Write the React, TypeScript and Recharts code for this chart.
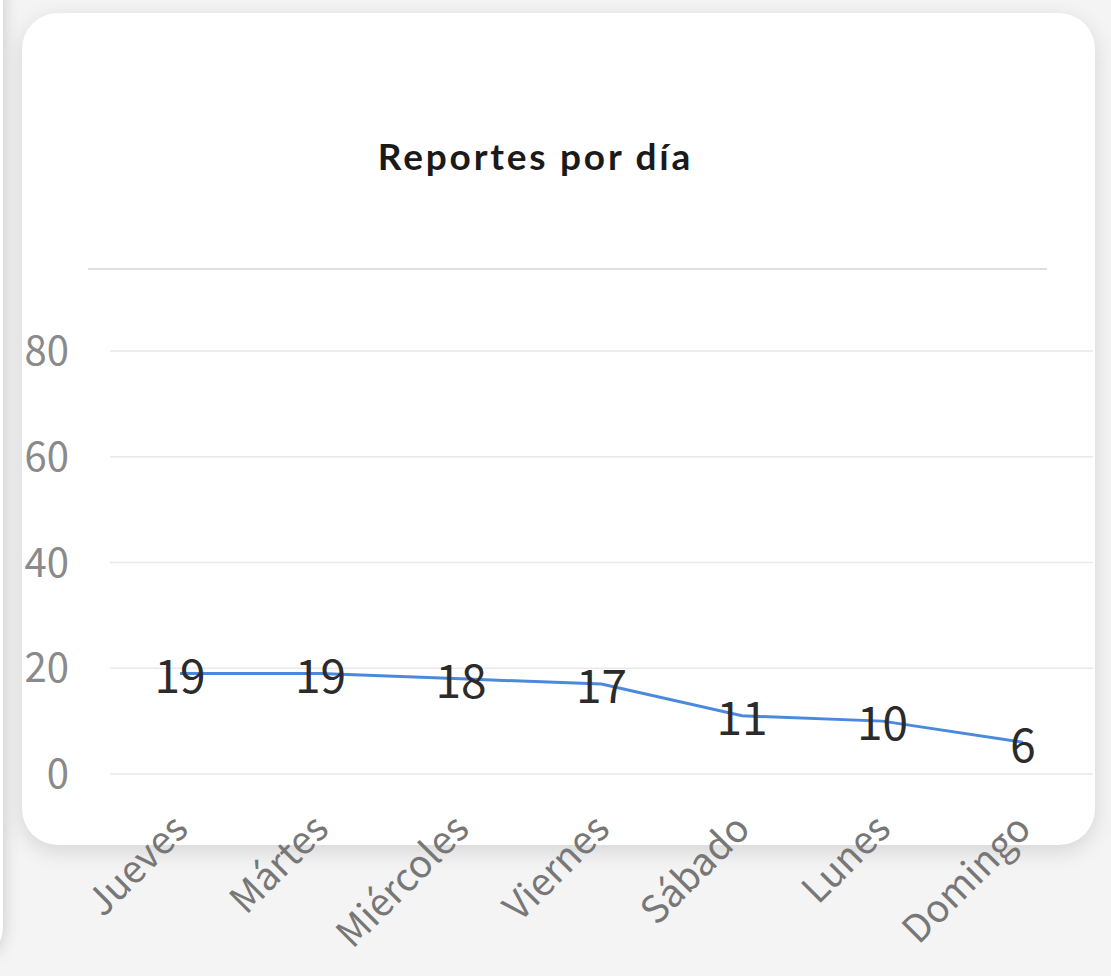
import { LineChart, Line, XAxis, YAxis, CartesianGrid, LabelList } from "recharts";

const days = ["Jueves", "Mártes", "Miércoles", "Viernes", "Sábado", "Lunes", "Domingo"];
const reports = [19, 19, 18, 17, 11, 10, 6];
const yTicks = [0, 20, 40, 60, 80];

const data = days.map((day, i) => ({ day, reports: reports[i] }));

const labelFont = '"Noto Sans CJK JP", "Noto Sans", sans-serif';

export default function App() {
  return (
    <div
      style={{
        position: "fixed",
        top: 0,
        left: 0,
        width: 1111,
        height: 976,
        background: "#f5f4f5",
        overflow: "hidden",
      }}
    >
      {/* edge of the card behind */}
      <div
        style={{
          position: "absolute",
          left: -200,
          top: -40,
          width: 203,
          height: 998,
          background: "#ffffff",
          borderRadius: 30,
          boxShadow: "0 0 18px rgba(0,0,0,0.18)",
        }}
      />
      <div
        style={{
          position: "absolute",
          left: 22,
          top: 13,
          width: 1073,
          height: 832,
          background: "#ffffff",
          borderRadius: 36,
          boxShadow: "0 6px 22px rgba(0,0,0,0.13)",
        }}
      />
      <div
        style={{
          position: "absolute",
          left: 22,
          top: 134,
          width: 1027,
          textAlign: "center",
          fontFamily: "Lato, sans-serif",
          fontWeight: 700,
          fontSize: 37,
          color: "#1a1a1a",
          letterSpacing: 2.8,
          lineHeight: "44px",
        }}
      >
        Reportes por día
      </div>
      <div
        style={{
          position: "absolute",
          left: 88,
          top: 268,
          width: 959,
          height: 2,
          background: "#dedede",
        }}
      />
      <div style={{ position: "absolute", left: 0, top: 300 }}>
        <LineChart
          width={1111}
          height={676}
          data={data}
          margin={{ top: 51, right: 18, left: 0, bottom: 2 }}
          style={{ overflow: "visible" }}
        >
          <CartesianGrid vertical={false} stroke="#e9e9e9" strokeWidth={1.5} />
          <XAxis
            dataKey="day"
            axisLine={false}
            tickLine={false}
            tickSize={0}
            tickMargin={38}
            height={200}
            padding={{ left: 70, right: 70 }}
            interval={0}
            angle={-45}
            textAnchor="end"
            dx={-9}
            tick={{ fill: "#777777", fontSize: 38, fontFamily: labelFont }}
          />
          <YAxis
            domain={[0, 80]}
            ticks={yTicks}
            width={110}
            axisLine={false}
            tickLine={false}
            tickSize={0}
            tickMargin={41}
            tick={{ fill: "#8a8a8a", fontSize: 40, fontFamily: labelFont }}
          />
          <Line
            type="linear"
            dataKey="reports"
            stroke="#4a89dc"
            strokeWidth={3}
            dot={false}
            isAnimationActive={false}
          >
            <LabelList
              dataKey="reports"
              position="center"
              dy={3}
              fill="#2b2b2b"
              fontSize={46}
              fontFamily={labelFont}
            />
          </Line>
        </LineChart>
      </div>
    </div>
  );
}
